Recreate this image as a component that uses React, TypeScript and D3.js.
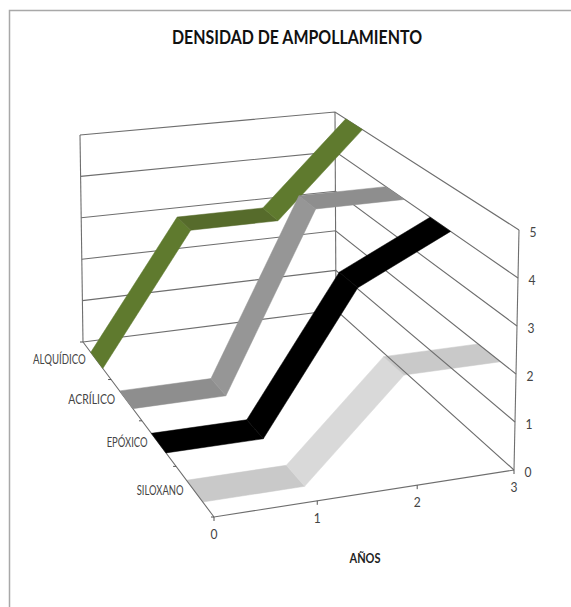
import React from "react";
import * as d3 from "d3";

const seriesNames = ["ALQUÍDICO", "ACRÍLICO", "EPÓXICO", "SILOXANO"];
const years = [0, 1, 2, 3];
const alquidico = [0, 3, 3, 5];
const acrilico = [0, 0, 4, 4];
const epoxico = [0, 0, 3, 4];
const siloxano = [0, 0, 2, 2];
const densityTicks = [0, 1, 2, 3, 4, 5];
const ribbonColors = ["#5f7a2e", "#969696", "#000000", "#d9d9d9"];
const flatColors = ["#566b2b", "#8e8e8e", "#000000", "#c9c9c9"];

type Pt = [number, number];

// Homography taking the unit square onto a quad (00, 10, 11, 01).
function squareToQuad(p00: Pt, p10: Pt, p11: Pt, p01: Pt) {
  const dx1 = p10[0] - p11[0], dx2 = p01[0] - p11[0], sx = p00[0] - p10[0] + p11[0] - p01[0];
  const dy1 = p10[1] - p11[1], dy2 = p01[1] - p11[1], sy = p00[1] - p10[1] + p11[1] - p01[1];
  const det = dx1 * dy2 - dx2 * dy1;
  const g = (sx * dy2 - dx2 * sy) / det;
  const h = (dx1 * sy - sx * dy1) / det;
  const a = p10[0] - p00[0] + g * p10[0], b = p01[0] - p00[0] + h * p01[0], c = p00[0];
  const d = p10[1] - p00[1] + g * p10[1], e = p01[1] - p00[1] + h * p01[1], f = p00[1];
  return (u: number, v: number): Pt => {
    const w = g * u + h * v + 1;
    return [(a * u + b * v + c) / w, (d * u + e * v + f) / w];
  };
}

// Plot box: u runs along the years, v from front to back, height along density.
const floor = squareToQuad([214, 517], [514, 470], [336, 310], [83, 342]);
const ceiling = squareToQuad([210, 266], [519, 230], [335, 112], [80, 135]);

const xScale = d3.scaleLinear().domain([0, 3]).range([0, 1]);
const hScale = d3.scaleLinear().domain([0, 5]).range([0, 1]);
// Depth runs over four equal category slots, first series at the back.
const zScale = d3.scaleLinear().domain([0, 4]).range([1, 0]);

function project(x: number, value: number, z: number): Pt {
  const u = xScale(x), v = zScale(z), t = hScale(value);
  const a = floor(u, v), b = ceiling(u, v);
  return [a[0] + (b[0] - a[0]) * t, a[1] + (b[1] - a[1]) * t];
}

const line = d3.line<Pt>();
const ribbonDepth = 0.43;

function seriesRibbons(values: number[], si: number) {
  return d3.pairs(values.map((v, i) => [years[i], v] as const)).map(([p, q]) => {
    const z0 = si + 0.5 - ribbonDepth / 2;
    const z1 = si + 0.5 + ribbonDepth / 2;
    const quad = [
      project(p[0], p[1], z0),
      project(q[0], q[1], z0),
      project(q[0], q[1], z1),
      project(p[0], p[1], z1),
    ];
    return {
      key: `${si}-${p[0]}`,
      d: line(quad)! + "Z",
      fill: p[1] === q[1] ? flatColors[si] : ribbonColors[si],
    };
  });
}

export default function App() {
  const gridStroke = "#6e6e6e";

  const gridPaths: string[] = [];
  densityTicks.forEach((d) => {
    gridPaths.push(line([project(0, d, 0), project(3, d, 0), project(3, d, 4)])!);
  });
  gridPaths.push(line([project(0, 0, 0), project(0, 5, 0)])!);
  gridPaths.push(line([project(3, 0, 0), project(3, 5, 0)])!);
  gridPaths.push(line([project(3, 0, 4), project(3, 5, 4)])!);

  const ticks = [
    ...years.map((y) => line([project(y, 0, 4), [project(y, 0, 4)[0], project(y, 0, 4)[1] + 4]])!),
    ...[0, 1, 2, 3, 4].map((z) => line([project(0, 0, z), [project(0, 0, z)[0] - 3, project(0, 0, z)[1]]])!),
  ];

  // The lightest series sits under the wall lines; the others hide them.
  const underGrid = seriesRibbons(siloxano, 3);
  const overGrid = [alquidico, acrilico, epoxico].flatMap((v, i) => seriesRibbons(v, i));

  const labelFont = "Lato, 'Open Sans', sans-serif";
  return (
    <svg
      width={571}
      height={607}
      style={{ position: "absolute", left: 0, top: 0, background: "#fff" }}
    >
      <path d="M9.5,607V10.5H571" fill="none" stroke="#a8a8a8" strokeWidth={1.5} />
      <text
        x={297}
        y={44}
        textAnchor="middle"
        fontFamily={labelFont}
        fontWeight={700}
        fontSize={18}
        fill="#111"
        textLength={250}
        lengthAdjust="spacingAndGlyphs"
      >
        DENSIDAD DE AMPOLLAMIENTO
      </text>

      {underGrid.map((r) => (
        <path key={r.key} d={r.d} fill={r.fill} stroke={r.fill} strokeWidth={0.5} />
      ))}
      {gridPaths.map((d, i) => (
        <path key={i} d={d} fill="none" stroke={gridStroke} strokeWidth={1.1} />
      ))}
      <path d={line([project(0, 0, 0), project(0, 0, 4), project(3, 0, 4)])!} fill="none" stroke={gridStroke} strokeWidth={1.1} />
      {ticks.map((d, i) => (
        <path key={i} d={d} fill="none" stroke="#555" strokeWidth={1} />
      ))}

      {overGrid.map((r) => (
        <path key={r.key} d={r.d} fill={r.fill} stroke={r.fill} strokeWidth={0.5} />
      ))}

      {densityTicks.map((d) => {
        const [x, y] = project(3, d, 4);
        return (
          <text key={d} x={x + 14} y={y + 7} textAnchor="middle" fontFamily={labelFont} fontSize={14} fill="#444" textLength={7} lengthAdjust="spacingAndGlyphs">
            {d}
          </text>
        );
      })}
      {years.map((y) => {
        const [x, py] = project(y, 0, 4);
        return (
          <text key={y} x={x} y={py + 22} textAnchor="middle" fontFamily={labelFont} fontSize={14} fill="#444" textLength={7} lengthAdjust="spacingAndGlyphs">
            {y}
          </text>
        );
      })}
      {seriesNames.map((name, i) => {
        const [x, y] = project(0, 0, i + 0.5);
        return (
          <text key={name} x={x - 11} y={y + 4} textAnchor="end" fontFamily={labelFont} fontSize={14} fill="#444" textLength={name.length * 5.85} lengthAdjust="spacingAndGlyphs">
            {name}
          </text>
        );
      })}
      <text x={365} y={563} textAnchor="middle" fontFamily={labelFont} fontWeight={700} fontSize={14} fill="#222" textLength={31} lengthAdjust="spacingAndGlyphs">
        AÑOS
      </text>
    </svg>
  );
}
